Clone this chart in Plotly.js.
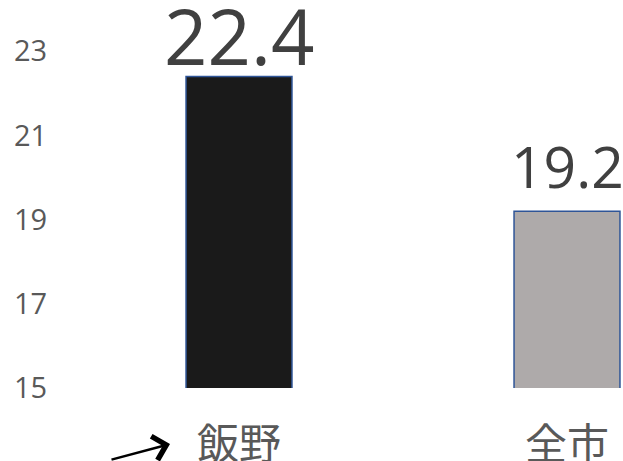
<!DOCTYPE html>
<html>
<head>
<meta charset="utf-8">
<script src="https://cdn.plot.ly/plotly-3.0.1.min.js"></script>
<style>html,body{margin:0;padding:0;background:#fff;}#chart{width:623px;height:461px;}</style>
</head>
<body>
<div id="chart"></div>
<script>
const categories = ["飯野", "全市"];
const values = [22.4, 19.2];
const barColors = ["#1a1a1a", "#aeaaaa"];
const yTicks = [15, 17, 19, 21, 23];

const CJK = '"Noto Sans CJK JP", "Noto Sans", sans-serif';
const NUM = '"Open Sans", "Noto Sans", sans-serif';
const labelStyle = [{ size: 76, shift: -12 }, { size: 57, shift: 4 }];

const trace = {
  type: "bar",
  x: categories,
  y: values,
  width: 0.323,
  marker: { color: barColors, line: { color: "#2f5597", width: 1.5 } },
  hoverinfo: "none"
};

const valueLabels = categories.map((c, i) => ({
  xref: "x", yref: "y",
  x: c, y: values[i],
  yanchor: "bottom", xanchor: "center",
  yshift: labelStyle[i].shift,
  text: values[i].toFixed(1),
  showarrow: false,
  font: { family: NUM, size: labelStyle[i].size, color: "#404040" }
}));

const layout = {
  width: 623,
  height: 461,
  margin: { l: 75, r: 0, t: 0, b: 73 },
  paper_bgcolor: "#fff",
  plot_bgcolor: "#fff",
  showlegend: false,
  xaxis: {
    range: [-0.5, 1.1707],
    tickfont: { family: CJK, size: 42, color: "#595959" },
    ticks: "outside", ticklen: 20, tickcolor: "rgba(0,0,0,0)",
    showline: false, showgrid: false, zeroline: false, fixedrange: true
  },
  yaxis: {
    range: [15, 24.22],
    tickvals: yTicks,
    ticktext: yTicks.map(String),
    tickfont: { family: NUM, size: 29, color: "#595959" },
    ticks: "outside", ticklen: 21, tickcolor: "rgba(0,0,0,0)",
    showline: false, showgrid: false, zeroline: false, fixedrange: true
  },
  annotations: valueLabels.concat([{
    xref: "paper", yref: "paper",
    x: 95 / 548, y: -56 / 388,
    ax: -60, ay: 16,
    text: "", showarrow: true,
    arrowhead: 4, arrowsize: 1.9, arrowwidth: 2.5, arrowcolor: "#000"
  }])
};

Plotly.newPlot("chart", [trace], layout, { displayModeBar: false, staticPlot: true });
</script>
</body>
</html>
